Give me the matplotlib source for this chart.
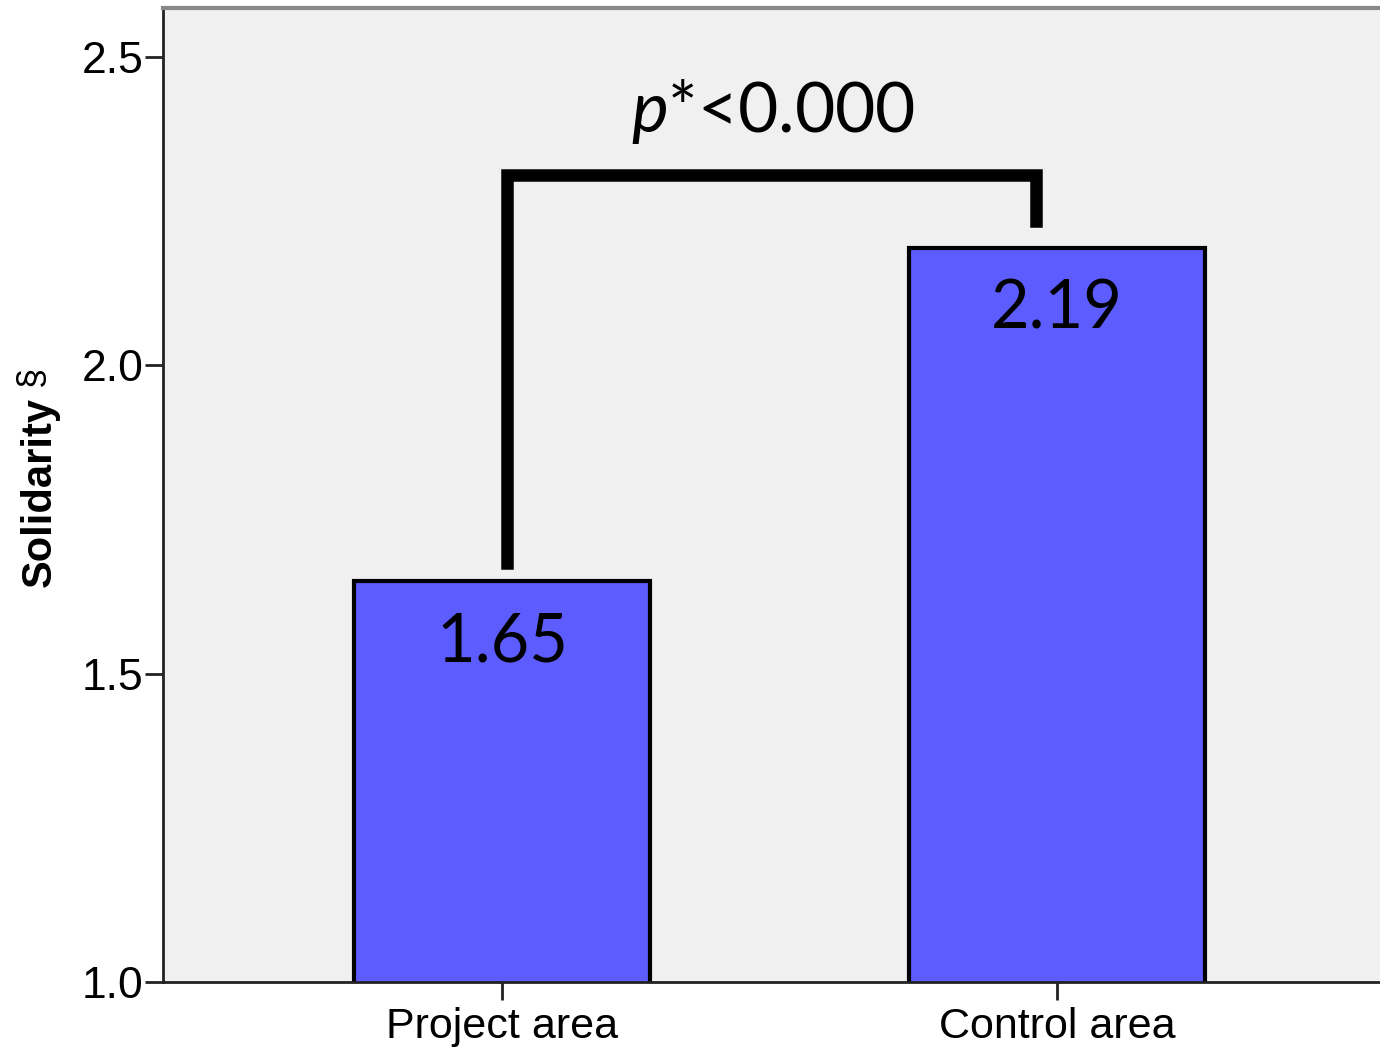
import matplotlib
matplotlib.use('Agg')
import matplotlib.pyplot as plt

# ------------------------
# Data
# ------------------------
categories = ['Project area', 'Control area']
means = [1.65, 2.19]
bar_labels = ['1.65', '2.19']
y_ticks = [1.0, 1.5, 2.0, 2.5]
p_text = r'$\mathit{p}$*<0.000'

# bracket anchors (data units)
bracket_top = 2.308
bracket_left_bottom = 1.68
bracket_right_bottom = 2.234

plt.rcParams['mathtext.fontset'] = 'custom'
plt.rcParams['mathtext.rm'] = 'Lato'
plt.rcParams['mathtext.it'] = 'Lato:italic'

fig = plt.figure(figsize=(13.8, 10.52), dpi=100)
ax = fig.add_axes([0.1181, 0.0665, 0.8935, 0.9259])
ax.set_facecolor('#f0f0f0')

x = list(range(len(categories)))
ax.bar(x, means, width=0.532, bottom=0, color='#5c5cff', edgecolor='black',
       linewidth=3, zorder=2)

ax.set_xlim(-0.611, 1.611)
ax.set_ylim(1.0, 2.5795)

# value labels inside the bars
for xi, m, lab in zip(x, means, bar_labels):
    ax.annotate(lab, (xi, m), xytext=(0, -44), textcoords='offset points',
                ha='center', va='center', fontsize=48, family='Lato')

# significance bracket
ax.plot([0.009, 0.009, 0.962, 0.962],
        [bracket_left_bottom, bracket_top, bracket_top, bracket_right_bottom],
        color='black', linewidth=9, solid_joinstyle='miter', zorder=3)
ax.text(0.488, 2.412, p_text, ha='center', va='center', fontsize=50,
        family='Lato')

# axes styling
ax.set_xticks(x)
ax.set_xticklabels(categories, fontsize=31, family='Liberation Sans')
ax.set_yticks(y_ticks)
ax.set_yticklabels([f'{t:.1f}' for t in y_ticks], fontsize=32,
                   family='Liberation Sans')
ax.tick_params(axis='both', direction='out', length=13, width=2, color='#222222')
ax.tick_params(axis='x', pad=5)
ax.tick_params(axis='y', pad=1)

ax.set_ylabel('Solidarity', fontsize=30, fontweight='bold',
              family='Liberation Sans')
ax.yaxis.set_label_coords(-0.084, 0.503)
fig.text(32 / 1380, 1 - 376 / 1052, '§', rotation=90, ha='center', va='center',
         fontsize=26, family='Liberation Sans')

for side in ['left', 'bottom']:
    ax.spines[side].set_color('#222222')
    ax.spines[side].set_linewidth(2)
ax.spines['top'].set_color('#888888')
ax.spines['top'].set_linewidth(3)
ax.spines['right'].set_visible(False)

fig.savefig('out.png', dpi=100)
